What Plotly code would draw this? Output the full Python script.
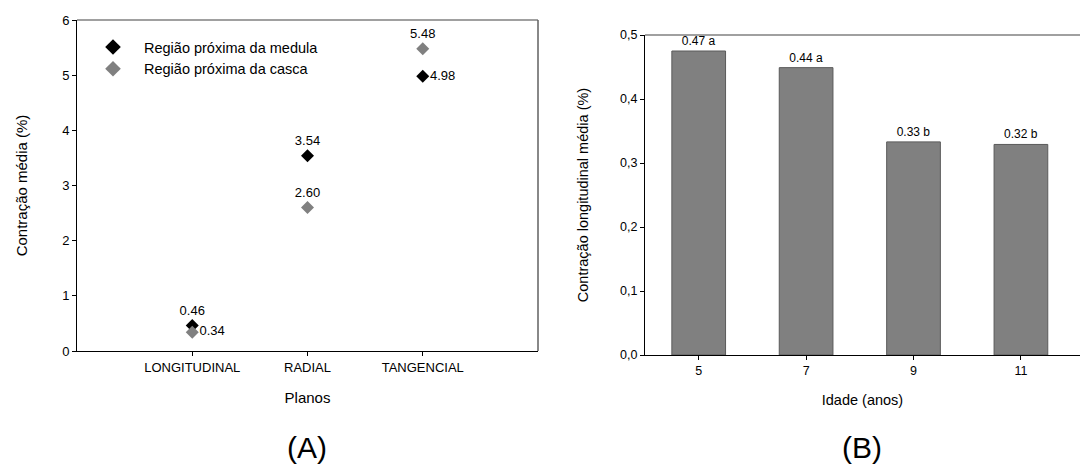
import plotly.graph_objects as go

# ---- Data ----
planos = ["LONGITUDINAL", "RADIAL", "TANGENCIAL"]
plano_pos = [1, 2, 3]
medula = [0.46, 3.54, 4.98]
casca = [0.34, 2.60, 5.48]
medula_pos = ["top center", "top center", "middle right"]
casca_pos = ["middle right", "top center", "top center"]

idades = [5, 7, 9, 11]
contracao_long = [0.475, 0.449, 0.333, 0.329]
bar_labels = ["0.47 a", "0.44 a", "0.33 b", "0.32 b"]

y_ticks_a = [0, 1, 2, 3, 4, 5, 6]
y_ticks_b = [0.0, 0.1, 0.2, 0.3, 0.4, 0.5]
y_ticktext_b = ["0,0", "0,1", "0,2", "0,3", "0,4", "0,5"]

FONT = "Liberation Sans, Arial, sans-serif"
W, H = 1080, 464

fig = go.Figure()

fig.add_trace(go.Scatter(
    x=plano_pos, y=medula, mode="markers+text",
    name="Região próxima da medula",
    marker=dict(symbol="diamond", size=10, color="black"),
    text=[f"{v:.2f}" for v in medula], textposition=medula_pos,
    textfont=dict(size=13, color="black", family=FONT),
    xaxis="x", yaxis="y",
))
fig.add_trace(go.Scatter(
    x=plano_pos, y=casca, mode="markers+text",
    name="Região próxima da casca",
    marker=dict(symbol="diamond", size=10, color="#808080"),
    text=[f"{v:.2f}" for v in casca], textposition=casca_pos,
    textfont=dict(size=13, color="black", family=FONT),
    xaxis="x", yaxis="y",
))

fig.add_trace(go.Bar(
    x=idades, y=contracao_long, width=1.0,
    marker=dict(color="#808080", line=dict(color="#5a5a5a", width=1)),
    text=bar_labels, textposition="outside", cliponaxis=False,
    textfont=dict(size=12, color="black", family=FONT),
    showlegend=False, xaxis="x2", yaxis="y2",
))

common = dict(showgrid=False, zeroline=False, showline=True, linecolor="black",
              linewidth=1, ticks="outside", ticklen=4, tickcolor="black",
              automargin=False,
              tickfont=dict(size=13, color="black", family=FONT))
tickfont_b = dict(size=12.5, color="black", family=FONT)

fig.update_layout(
    width=W, height=H,
    margin=dict(l=0, r=0, t=0, b=0),
    paper_bgcolor="white", plot_bgcolor="white",
    font=dict(family=FONT, color="black"),
    xaxis=dict(domain=[77 / W, 538 / W], range=[0, 4],
               tickmode="array", tickvals=plano_pos, ticktext=planos,
               title=dict(text="Planos", font=dict(size=15), standoff=18),
               anchor="y", **common),
    yaxis=dict(domain=[1 - 351 / H, 1 - 20 / H], range=[0, 6],
               tickmode="array", tickvals=y_ticks_a,
               title=dict(text="Contração média (%)", font=dict(size=15), standoff=30),
               anchor="x", **common),
    xaxis2=dict(domain=[645 / W, 1.0], range=[4, 12.1],
                tickmode="array", tickvals=idades,
                title=dict(text="Idade (anos)", font=dict(size=14.5), standoff=17),
                anchor="y2", **{**common, "tickfont": tickfont_b}),
    yaxis2=dict(domain=[1 - 355 / H, 1 - 35 / H], range=[0, 0.5],
                tickmode="array", tickvals=y_ticks_b, ticktext=y_ticktext_b,
                title=dict(text="Contração longitudinal média (%)", font=dict(size=14.5), standoff=28),
                anchor="x2", **{**common, "tickfont": tickfont_b}),
    legend=dict(x=82 / W, y=1 - 31 / H, xanchor="left", yanchor="top",
                bgcolor="rgba(0,0,0,0)", font=dict(size=14.5, color="black", family=FONT),
                itemwidth=52, itemsizing="constant"),
    showlegend=True,
)

# gray top/right frame lines
for xr, yr in [("x domain", "y domain"), ("x2 domain", "y2 domain")]:
    fig.add_shape(type="line", xref=xr, yref=yr, x0=0, x1=1, y0=1, y1=1,
                  line=dict(color="#808080", width=1.5))
fig.add_shape(type="line", xref="x domain", yref="y domain", x0=1, x1=1, y0=0, y1=1,
              line=dict(color="#606060", width=1.5))

fig.add_annotation(text="(A)", xref="paper", yref="paper", x=307 / W, y=1 - 447 / H,
                   showarrow=False, font=dict(size=30, color="black", family=FONT),
                   xanchor="center", yanchor="middle")
fig.add_annotation(text="(B)", xref="paper", yref="paper", x=862 / W, y=1 - 447 / H,
                   showarrow=False, font=dict(size=30, color="black", family=FONT),
                   xanchor="center", yanchor="middle")

fig.write_html(
    "out.html",
    config={"displayModeBar": False},
    post_script="document.body.style.margin='0';document.body.style.overflow='hidden';",
)
